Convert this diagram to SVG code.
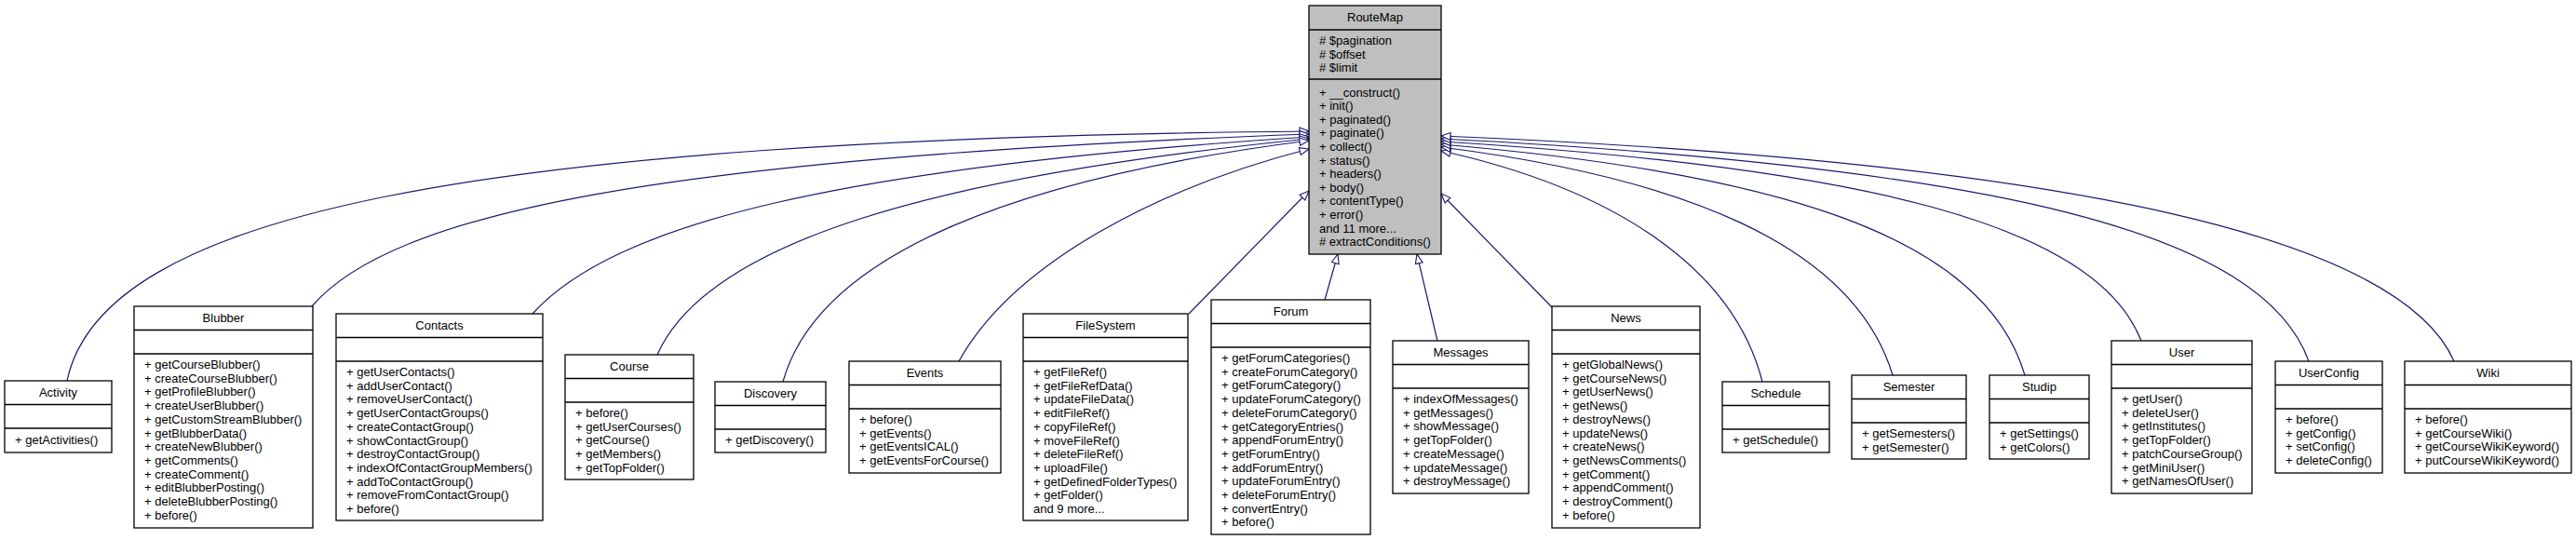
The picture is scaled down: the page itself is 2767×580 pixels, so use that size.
<svg xmlns="http://www.w3.org/2000/svg" width="2767" height="580" viewBox="0 0 2767 580">
<style>
text{font-family:"Liberation Sans",Arial,sans-serif;font-size:13px;fill:#000}
.t{text-anchor:middle}
.box{fill:#fff;stroke:#000;stroke-width:1.3}
.base{fill:#bfbfbf;stroke:#000;stroke-width:1.3}
.sep{stroke:#000;stroke-width:1.3}
.e{fill:none;stroke:#191970;stroke-width:1.2;marker-end:url(#tri)}
</style>
<defs>
<marker id="tri" viewBox="0 0 12 10" refX="11" refY="5" markerWidth="12" markerHeight="10" markerUnits="userSpaceOnUse" orient="auto">
<path d="M1,1 L11,5 L1,9 Z" fill="#fff" stroke="#191970" stroke-width="1.1"/>
</marker>
</defs>
<rect width="2767" height="580" fill="#fff"/>
<g id="connectors">
<path class="e" d="M72,409 C110,230 500,150 1406,141"/>
<path class="e" d="M335,329 C420,230 700,170 1406,144"/>
<path class="e" d="M572,337 C660,240 900,180 1406,147"/>
<path class="e" d="M706,381 C760,260 1000,190 1406,149"/>
<path class="e" d="M841,410 C880,270 1100,190 1406,151"/>
<path class="e" d="M1030,388 C1090,280 1250,200 1406,160"/>
<path class="e" d="M1277,337 L1406,205"/>
<path class="e" d="M1423,322 L1437,273"/>
<path class="e" d="M1544,366 L1522,273"/>
<path class="e" d="M1667,330 L1548,208"/>
<path class="e" d="M1893,410 C1860,280 1720,200 1548,162"/>
<path class="e" d="M2033,403 C1990,260 1800,190 1548,158"/>
<path class="e" d="M2175,403 C2130,250 1900,185 1548,155"/>
<path class="e" d="M2300,366 C2250,240 2000,180 1548,152"/>
<path class="e" d="M2480,388 C2430,250 2150,180 1548,149"/>
<path class="e" d="M2636,388 C2580,260 2250,175 1548,146"/>
</g>
<g id="RouteMap">
<rect class="base" x="1406" y="6" width="142" height="267"/>
<line class="sep" x1="1406" y1="32" x2="1548" y2="32"/>
<line class="sep" x1="1406" y1="85" x2="1548" y2="85"/>
<text class="t" x="1477" y="23">RouteMap</text>
<text x="1417" y="48"># $pagination</text>
<text x="1417" y="62.5"># $offset</text>
<text x="1417" y="77"># $limit</text>
<text x="1417" y="103.5">+ __construct()</text>
<text x="1417" y="118.1">+ init()</text>
<text x="1417" y="132.7">+ paginated()</text>
<text x="1417" y="147.3">+ paginate()</text>
<text x="1417" y="161.9">+ collect()</text>
<text x="1417" y="176.5">+ status()</text>
<text x="1417" y="191.1">+ headers()</text>
<text x="1417" y="205.7">+ body()</text>
<text x="1417" y="220.3">+ contentType()</text>
<text x="1417" y="234.9">+ error()</text>
<text x="1417" y="249.5">and 11 more...</text>
<text x="1417" y="264.1"># extractConditions()</text>
</g>
<g id="Activity">
<rect class="box" x="5" y="409" width="115" height="77"/>
<line class="sep" x1="5" y1="434.5" x2="120" y2="434.5"/><line class="sep" x1="5" y1="460" x2="120" y2="460"/>
<text class="t" x="62.5" y="426">Activity</text>
<text x="16" y="476.5">+ getActivities()</text>
</g>
<g id="Blubber">
<rect class="box" x="144" y="329" width="192" height="238"/>
<line class="sep" x1="144" y1="354.5" x2="336" y2="354.5"/><line class="sep" x1="144" y1="380" x2="336" y2="380"/>
<text class="t" x="240" y="346">Blubber</text>
<text x="155" y="396">+ getCourseBlubber()</text>
<text x="155" y="410.7">+ createCourseBlubber()</text>
<text x="155" y="425.4">+ getProfileBlubber()</text>
<text x="155" y="440.1">+ createUserBlubber()</text>
<text x="155" y="454.8">+ getCustomStreamBlubber()</text>
<text x="155" y="469.5">+ getBlubberData()</text>
<text x="155" y="484.2">+ createNewBlubber()</text>
<text x="155" y="498.9">+ getComments()</text>
<text x="155" y="513.6">+ createComment()</text>
<text x="155" y="528.3">+ editBlubberPosting()</text>
<text x="155" y="543">+ deleteBlubberPosting()</text>
<text x="155" y="557.7">+ before()</text>
</g>
<g id="Contacts">
<rect class="box" x="361" y="337" width="222" height="222"/>
<line class="sep" x1="361" y1="362.5" x2="583" y2="362.5"/><line class="sep" x1="361" y1="388" x2="583" y2="388"/>
<text class="t" x="472" y="354">Contacts</text>
<text x="372" y="404">+ getUserContacts()</text>
<text x="372" y="418.7">+ addUserContact()</text>
<text x="372" y="433.4">+ removeUserContact()</text>
<text x="372" y="448.1">+ getUserContactGroups()</text>
<text x="372" y="462.8">+ createContactGroup()</text>
<text x="372" y="477.5">+ showContactGroup()</text>
<text x="372" y="492.2">+ destroyContactGroup()</text>
<text x="372" y="506.9">+ indexOfContactGroupMembers()</text>
<text x="372" y="521.6">+ addToContactGroup()</text>
<text x="372" y="536.3">+ removeFromContactGroup()</text>
<text x="372" y="551">+ before()</text>
</g>
<g id="Course">
<rect class="box" x="607" y="381" width="138" height="134"/>
<line class="sep" x1="607" y1="406.5" x2="745" y2="406.5"/><line class="sep" x1="607" y1="432" x2="745" y2="432"/>
<text class="t" x="676" y="398">Course</text>
<text x="618" y="448">+ before()</text>
<text x="618" y="462.7">+ getUserCourses()</text>
<text x="618" y="477.4">+ getCourse()</text>
<text x="618" y="492.1">+ getMembers()</text>
<text x="618" y="506.8">+ getTopFolder()</text>
</g>
<g id="Discovery">
<rect class="box" x="768" y="410" width="119" height="76"/>
<line class="sep" x1="768" y1="435.5" x2="887" y2="435.5"/><line class="sep" x1="768" y1="461" x2="887" y2="461"/>
<text class="t" x="827.5" y="427">Discovery</text>
<text x="779" y="477">+ getDiscovery()</text>
</g>
<g id="Events">
<rect class="box" x="912" y="388" width="163" height="120"/>
<line class="sep" x1="912" y1="413.5" x2="1075" y2="413.5"/><line class="sep" x1="912" y1="439" x2="1075" y2="439"/>
<text class="t" x="993.5" y="405">Events</text>
<text x="923" y="455">+ before()</text>
<text x="923" y="469.7">+ getEvents()</text>
<text x="923" y="484.4">+ getEventsICAL()</text>
<text x="923" y="499.1">+ getEventsForCourse()</text>
</g>
<g id="FileSystem">
<rect class="box" x="1099" y="337" width="177" height="222"/>
<line class="sep" x1="1099" y1="362.5" x2="1276" y2="362.5"/><line class="sep" x1="1099" y1="388" x2="1276" y2="388"/>
<text class="t" x="1187.5" y="354">FileSystem</text>
<text x="1110" y="404">+ getFileRef()</text>
<text x="1110" y="418.7">+ getFileRefData()</text>
<text x="1110" y="433.4">+ updateFileData()</text>
<text x="1110" y="448.1">+ editFileRef()</text>
<text x="1110" y="462.8">+ copyFileRef()</text>
<text x="1110" y="477.5">+ moveFileRef()</text>
<text x="1110" y="492.2">+ deleteFileRef()</text>
<text x="1110" y="506.9">+ uploadFile()</text>
<text x="1110" y="521.6">+ getDefinedFolderTypes()</text>
<text x="1110" y="536.3">+ getFolder()</text>
<text x="1110" y="551">and 9 more...</text>
</g>
<g id="Forum">
<rect class="box" x="1301" y="322" width="171" height="252"/>
<line class="sep" x1="1301" y1="347.5" x2="1472" y2="347.5"/><line class="sep" x1="1301" y1="373" x2="1472" y2="373"/>
<text class="t" x="1386.5" y="339">Forum</text>
<text x="1312" y="389">+ getForumCategories()</text>
<text x="1312" y="403.7">+ createForumCategory()</text>
<text x="1312" y="418.4">+ getForumCategory()</text>
<text x="1312" y="433.1">+ updateForumCategory()</text>
<text x="1312" y="447.8">+ deleteForumCategory()</text>
<text x="1312" y="462.5">+ getCategoryEntries()</text>
<text x="1312" y="477.2">+ appendForumEntry()</text>
<text x="1312" y="491.9">+ getForumEntry()</text>
<text x="1312" y="506.6">+ addForumEntry()</text>
<text x="1312" y="521.3">+ updateForumEntry()</text>
<text x="1312" y="536">+ deleteForumEntry()</text>
<text x="1312" y="550.7">+ convertEntry()</text>
<text x="1312" y="565.4">+ before()</text>
</g>
<g id="Messages">
<rect class="box" x="1496" y="366" width="146" height="164"/>
<line class="sep" x1="1496" y1="391.5" x2="1642" y2="391.5"/><line class="sep" x1="1496" y1="417" x2="1642" y2="417"/>
<text class="t" x="1569" y="383">Messages</text>
<text x="1507" y="433">+ indexOfMessages()</text>
<text x="1507" y="447.7">+ getMessages()</text>
<text x="1507" y="462.4">+ showMessage()</text>
<text x="1507" y="477.1">+ getTopFolder()</text>
<text x="1507" y="491.8">+ createMessage()</text>
<text x="1507" y="506.5">+ updateMessage()</text>
<text x="1507" y="521.2">+ destroyMessage()</text>
</g>
<g id="News">
<rect class="box" x="1667" y="329" width="159" height="238"/>
<line class="sep" x1="1667" y1="354.5" x2="1826" y2="354.5"/><line class="sep" x1="1667" y1="380" x2="1826" y2="380"/>
<text class="t" x="1746.5" y="346">News</text>
<text x="1678" y="396">+ getGlobalNews()</text>
<text x="1678" y="410.7">+ getCourseNews()</text>
<text x="1678" y="425.4">+ getUserNews()</text>
<text x="1678" y="440.1">+ getNews()</text>
<text x="1678" y="454.8">+ destroyNews()</text>
<text x="1678" y="469.5">+ updateNews()</text>
<text x="1678" y="484.2">+ createNews()</text>
<text x="1678" y="498.9">+ getNewsComments()</text>
<text x="1678" y="513.6">+ getComment()</text>
<text x="1678" y="528.3">+ appendComment()</text>
<text x="1678" y="543">+ destroyComment()</text>
<text x="1678" y="557.7">+ before()</text>
</g>
<g id="Schedule">
<rect class="box" x="1850" y="410" width="115" height="76"/>
<line class="sep" x1="1850" y1="435.5" x2="1965" y2="435.5"/><line class="sep" x1="1850" y1="461" x2="1965" y2="461"/>
<text class="t" x="1907.5" y="427">Schedule</text>
<text x="1861" y="477">+ getSchedule()</text>
</g>
<g id="Semester">
<rect class="box" x="1989" y="403" width="123" height="90"/>
<line class="sep" x1="1989" y1="428.5" x2="2112" y2="428.5"/><line class="sep" x1="1989" y1="454" x2="2112" y2="454"/>
<text class="t" x="2050.5" y="420">Semester</text>
<text x="2000" y="470">+ getSemesters()</text>
<text x="2000" y="484.7">+ getSemester()</text>
</g>
<g id="Studip">
<rect class="box" x="2137" y="403" width="107" height="90"/>
<line class="sep" x1="2137" y1="428.5" x2="2244" y2="428.5"/><line class="sep" x1="2137" y1="454" x2="2244" y2="454"/>
<text class="t" x="2190.5" y="420">Studip</text>
<text x="2148" y="470">+ getSettings()</text>
<text x="2148" y="484.7">+ getColors()</text>
</g>
<g id="User">
<rect class="box" x="2268" y="366" width="151" height="164"/>
<line class="sep" x1="2268" y1="391.5" x2="2419" y2="391.5"/><line class="sep" x1="2268" y1="417" x2="2419" y2="417"/>
<text class="t" x="2343.5" y="383">User</text>
<text x="2279" y="433">+ getUser()</text>
<text x="2279" y="447.7">+ deleteUser()</text>
<text x="2279" y="462.4">+ getInstitutes()</text>
<text x="2279" y="477.1">+ getTopFolder()</text>
<text x="2279" y="491.8">+ patchCourseGroup()</text>
<text x="2279" y="506.5">+ getMiniUser()</text>
<text x="2279" y="521.2">+ getNamesOfUser()</text>
</g>
<g id="UserConfig">
<rect class="box" x="2444" y="388" width="115" height="120"/>
<line class="sep" x1="2444" y1="413.5" x2="2559" y2="413.5"/><line class="sep" x1="2444" y1="439" x2="2559" y2="439"/>
<text class="t" x="2501.5" y="405">UserConfig</text>
<text x="2455" y="455">+ before()</text>
<text x="2455" y="469.7">+ getConfig()</text>
<text x="2455" y="484.4">+ setConfig()</text>
<text x="2455" y="499.1">+ deleteConfig()</text>
</g>
<g id="Wiki">
<rect class="box" x="2583" y="388" width="179" height="120"/>
<line class="sep" x1="2583" y1="413.5" x2="2762" y2="413.5"/><line class="sep" x1="2583" y1="439" x2="2762" y2="439"/>
<text class="t" x="2672.5" y="405">Wiki</text>
<text x="2594" y="455">+ before()</text>
<text x="2594" y="469.7">+ getCourseWiki()</text>
<text x="2594" y="484.4">+ getCourseWikiKeyword()</text>
<text x="2594" y="499.1">+ putCourseWikiKeyword()</text>
</g>
</svg>
